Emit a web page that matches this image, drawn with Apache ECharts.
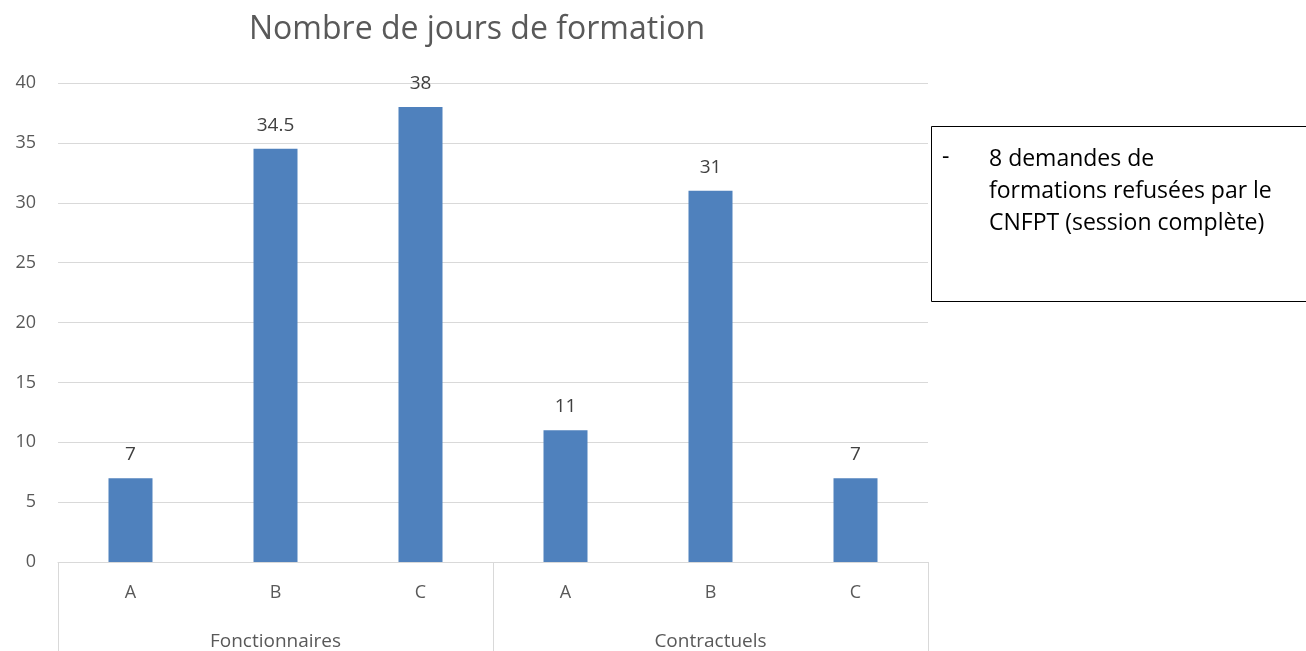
<!DOCTYPE html>
<html>
<head>
<meta charset="utf-8">
<script src="https://cdn.jsdelivr.net/npm/echarts@6/dist/echarts.min.js"></script>
<style>
  html, body { margin: 0; padding: 0; background: #ffffff; }
  #chart { width: 1306px; height: 651px; }
</style>
</head>
<body>
<div id="chart"></div>
<script>
// Training days per staff category
const categories = ['A', 'B', 'C', 'A', 'B', 'C'];
const groups = ['Fonctionnaires', 'Contractuels'];
const jours = [7, 34.5, 38, 11, 31, 7];
const noteLines = ['8 demandes de', 'formations refusées par le', 'CNFPT (session complète)'];

const chart = echarts.init(document.getElementById('chart'));

const axisGray = '#d9d9d9';
const labelGray = '#595959';
const font = '"Open Sans", "Noto Sans", sans-serif';

chart.setOption({
  animation: false,
  title: {
    text: 'Nombre de jours de formation',
    left: 244,
    top: 9,
    textStyle: { fontFamily: font, fontSize: 32, fontWeight: 'normal', color: labelGray }
  },
  grid: { left: 58, right: 378, top: 83, bottom: 89, containLabel: false },
  xAxis: [
    {
      type: 'category',
      data: categories,
      position: 'bottom',
      axisLine: { show: true, lineStyle: { color: axisGray, width: 1 } },
      axisTick: { show: false },
      axisLabel: { color: labelGray, fontFamily: font, fontSize: 18, margin: 22 }
    },
    {
      type: 'category',
      data: groups,
      position: 'bottom',
      axisLine: { show: false },
      axisTick: { show: true, length: 89, interval: 0, alignWithLabel: false, lineStyle: { color: axisGray, width: 1 } },
      axisLabel: { color: labelGray, fontFamily: font, fontSize: 19, margin: 70 }
    }
  ],
  yAxis: {
    type: 'value',
    min: 0,
    max: 40,
    interval: 5,
    axisLine: { show: false },
    axisTick: { show: false },
    splitLine: { lineStyle: { color: axisGray, width: 1 } },
    axisLabel: { color: labelGray, fontFamily: font, fontSize: 18, margin: 22 }
  },
  series: [{
    type: 'bar',
    data: jours,
    xAxisIndex: 0,
    barWidth: 44,
    itemStyle: { color: '#4f81bd' },
    label: {
      show: true,
      position: 'top',
      distance: 14,
      color: '#404040',
      fontFamily: font,
      fontSize: 19
    }
  }],
  graphic: [
    {
      type: 'rect',
      shape: { x: 931.5, y: 126.5, width: 380, height: 175 },
      style: { fill: '#ffffff', stroke: '#000000', lineWidth: 1 }
    },
    {
      type: 'text',
      left: 942,
      top: 146,
      style: { text: '-', font: '23px ' + font, fill: '#000000' }
    },
    {
      type: 'text',
      left: 989,
      top: 143,
      style: {
        text: noteLines.join('\n'),
        font: '23px ' + font,
        lineHeight: 32,
        fill: '#000000'
      }
    }
  ]
});
</script>
</body>
</html>
